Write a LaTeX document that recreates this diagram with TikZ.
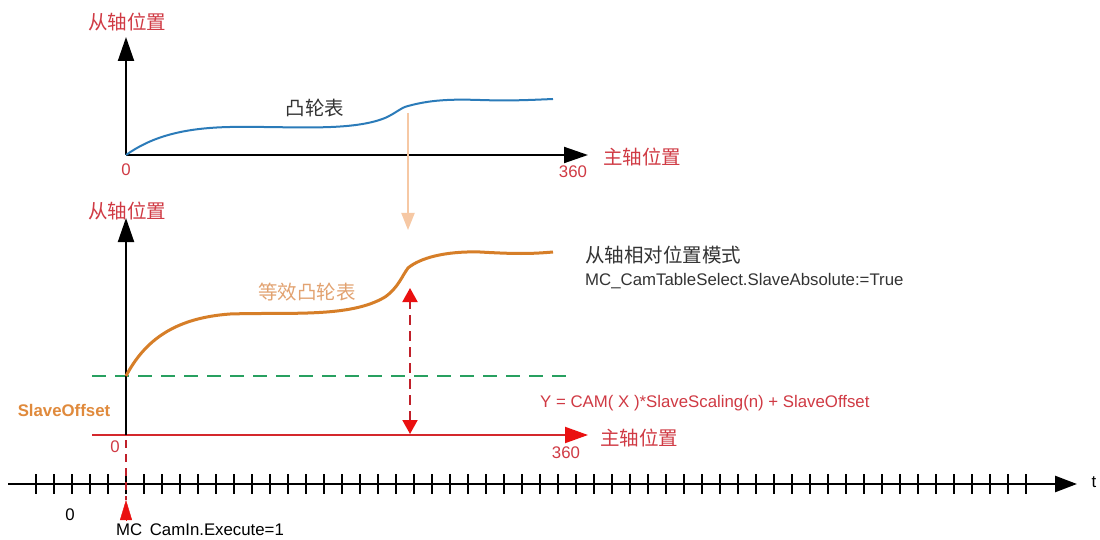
\documentclass[tikz,border=0pt]{standalone}
\usepackage{fontspec}
\setmainfont{Liberation Sans}
\newfontfamily\cjkfont{Noto Sans CJK SC}
\usetikzlibrary{arrows.meta,positioning}
\definecolor{lblred}{RGB}{208,58,68}
\definecolor{axred}{RGB}{212,40,44}
\definecolor{tipred}{RGB}{234,16,16}
\definecolor{camblue}{RGB}{43,123,185}
\definecolor{camorange}{RGB}{214,126,40}
\definecolor{camtext}{RGB}{226,162,112}
\definecolor{offorange}{RGB}{224,138,60}
\definecolor{peach}{RGB}{246,200,164}
\definecolor{dashgreen}{RGB}{40,160,96}
\definecolor{dashred}{RGB}{192,32,42}
\definecolor{txtgray}{RGB}{51,51,51}

\begin{document}
\begin{tikzpicture}[
  x=1pt,y=-1pt,
  cn/.style={font=\cjkfont\fontsize{19.5}{22}\selectfont, inner sep=0pt},
  lat/.style={font=\fontsize{16.8}{19}\selectfont, inner sep=0pt},
  axis/.style={line width=2pt, -{Triangle[length=24pt,width=16pt]}},
  raxis/.style={line width=2pt, draw=axred, -{Triangle[length=23pt,width=16pt,color=tipred]}},
  taxis/.style={line width=2.6pt, -{Triangle[length=22pt,width=16pt]}},
  tickmark/.style={line width=1.6pt},
  cam/.style={line width=2pt, camblue},
  eqcam/.style={line width=3pt, camorange},
  offline/.style={line width=2pt, dashgreen, dash pattern=on 14pt off 9pt},
  dblarr/.style={line width=2pt, dashred, dash pattern=on 10pt off 6pt,
    {Triangle[length=14pt,width=15pt,color=tipred]}-{Triangle[length=14pt,width=15pt,color=tipred]}},
  downarr/.style={line width=2pt, peach, -{Triangle[length=17pt,width=13pt]}}
]
\useasboundingbox[fill=white] (0,0) rectangle (1100,540);

% upper cam table
\coordinate (o1) at (126,155);
\coordinate (y1) at (126,37);
\coordinate (x1) at (588,155);
\draw[axis] (o1) -- (y1);
\draw[axis] (o1) -- (x1);
\node[cn, text=lblred] (ylabTop) at (127,22) {从轴位置};
\node[cn, text=lblred] (xlabTop) at (642,157) {主轴位置};
\node[lat, text=lblred] (zeroTop) at (126,170) {0};
\node[lat, text=lblred] (endTop) at (573,172) {360};
\draw[cam] (126,155) .. controls (150,138) and (180,128) .. (230,127)
  .. controls (290,126) and (350,132) .. (385,118)
  .. controls (398,112) and (400,108) .. (408,106)
  .. controls (430,100) and (450,99) .. (480,100)
  .. controls (510,101) and (530,100) .. (553,99);
\node[cn, text=txtgray] (camLbl) at (315,108) {凸轮表};

\coordinate (c1) at (408,113);
\coordinate (c2) at (408,230);
\draw[downarr] (c1) -- (c2);

% lower equivalent cam table
\coordinate (o2) at (126,435);
\coordinate (y2) at (126,218);
\coordinate (x2a) at (92,435);
\coordinate (x2) at (588,435);
\coordinate (g1) at (92,376);
\coordinate (g2) at (570,376);
\draw[offline] (g1) -- (g2);
\draw[raxis] (x2a) -- (x2);
\draw[axis] (o2) -- (y2);
\node[cn, text=lblred] (ylabBot) at (127,211) {从轴位置};
\node[cn, text=lblred] (xlabBot) at (639,438) {主轴位置};
\node[lat, text=lblred] (zeroBot) at (115,447) {0};
\node[lat, text=lblred] (endBot) at (566,453) {360};
\draw[eqcam] (126,376) .. controls (145,340) and (175,318) .. (230,314)
  .. controls (290,312) and (350,318) .. (385,297)
  .. controls (398,288) and (402,276) .. (408,268)
  .. controls (420,258) and (445,251) .. (480,252)
  .. controls (515,254) and (530,254) .. (553,252);
\node[cn, text=camtext] (eqCamLbl) at (307,292) {等效凸轮表};
\node[cn, text=txtgray, anchor=west] (modeLbl) at (585,255) {从轴相对位置模式};
\node[lat, text=txtgray, anchor=west] (modeCode) at (585,281) {MC\_CamTableSelect.SlaveAbsolute:=True};
\node[lat, text=offorange, font=\bfseries\fontsize{16.8}{19}\selectfont] (offsetLbl) at (64,410) {SlaveOffset};
\node[lat, text=lblred, anchor=west] (formula) at (540,403) {Y = CAM( X )*SlaveScaling(n) + SlaveOffset};

\coordinate (d1) at (410,434);
\coordinate (d2) at (410,288);
\draw[dblarr] (d1) -- (d2);

% time axis
\coordinate (t0) at (8,484);
\coordinate (t1) at (1077,484);
\draw[taxis] (t0) -- (t1);
\foreach \k in {0,...,55}
  \draw[tickmark] ({36+18*\k},474) -- ({36+18*\k},494);
\node[lat] (tLbl) at (1094,482) {t};
\node[lat] (zeroT) at (70,515) {0};

\coordinate (e1) at (126,440);
\coordinate (e2) at (126,500);
\coordinate (e3) at (126,520);
\draw[line width=1.6pt, dashred, dash pattern=on 8pt off 6pt] (e1) -- (e2);
\draw[tipred, -{Triangle[length=20pt,width=12pt]}] (e3) -- (e2);
\node[lat, anchor=west] (execLbl) at (116,530) {MC\hspace{0.45em}CamIn.Execute=1};
\end{tikzpicture}
\end{document}
